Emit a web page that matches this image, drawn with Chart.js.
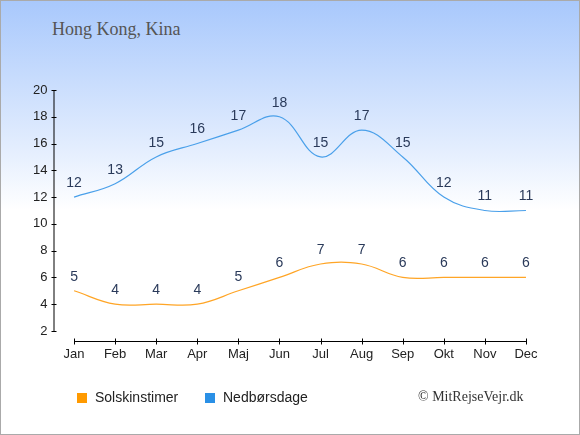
<!DOCTYPE html>
<html>
<head>
<meta charset="utf-8">
<script src="https://cdn.jsdelivr.net/npm/chart.js@4"></script>
<style>
  body { margin: 0; }
  #wrap {
    position: relative; width: 580px; height: 435px;
    background: linear-gradient(to bottom, #a8c8fc 0px, #e4eefe 150px, #ffffff 210px, #ffffff 435px);
  }
  #frame { position: absolute; left: 0; top: 0; width: 578px; height: 433px; border: 1px solid #aaaaaa; pointer-events: none; }
  #title { position: absolute; left: 52px; top: 19px; font: 18px "Liberation Serif", serif; color: #555; }
  .leg { position: absolute; top: 389px; font: 14px "Liberation Sans", Arial, sans-serif; color: #222; }
  .leg span { display: inline-block; width: 10px; height: 10px; margin-right: 8px; vertical-align: -1px; }
  #copy { position: absolute; left: 418px; top: 389px; font: 14px "Liberation Serif", serif; color: #333; }
  canvas { position: absolute; left: 0; top: 0; }
</style>
</head>
<body>
<div id="wrap">
  <div id="title">Hong Kong, Kina</div>
  <canvas id="miGrafico" width="580" height="435"></canvas>
  <div class="leg" style="left:77px"><span style="background:#ff9a00"></span>Solskinstimer</div>
  <div class="leg" style="left:205px"><span style="background:#2a90e6"></span>Nedbørsdage</div>
  <div id="copy">© MitRejseVejr.dk</div>
  <div id="frame"></div>
</div>
<script>
// Datos del gráfico
var meses = ["Jan", "Feb", "Mar", "Apr", "Maj", "Jun", "Jul", "Aug", "Sep", "Okt", "Nov", "Dec"];
var solskinstimer = [5, 4, 4, 4, 5, 6, 7, 7, 6, 6, 6, 6];
var nedborsdage = [12, 13, 15, 16, 17, 18, 15, 17, 15, 12, 11, 11];
var yTicks = [2, 4, 6, 8, 10, 12, 14, 16, 18, 20];

// Ejes y etiquetas dibujados a mano
var ejesPlugin = {
    id: "ejes",
    afterDatasetsDraw: function (chart) {
        var ctx = chart.ctx;
        var x = chart.scales.x, y = chart.scales.y;
        var left = chart.chartArea.left, bottom = chart.chartArea.bottom;
        ctx.save();
        ctx.strokeStyle = "#000";
        ctx.lineWidth = 1;
        // eje y
        var yTop = y.getPixelForValue(yTicks[yTicks.length - 1]);
        var yBot = y.getPixelForValue(yTicks[0]);
        ctx.beginPath();
        ctx.moveTo(left + 0.5, yTop);
        ctx.lineTo(left + 0.5, yBot);
        yTicks.forEach(function (v) {
            var py = Math.round(y.getPixelForValue(v)) + 0.5;
            ctx.moveTo(left - 2, py);
            ctx.lineTo(left + 3, py);
        });
        // eje x
        var x0 = x.getPixelForValue(0), x1 = x.getPixelForValue(meses.length - 1);
        var by = Math.round(bottom) + 0.5;
        ctx.moveTo(x0, by);
        ctx.lineTo(x1, by);
        meses.forEach(function (m, i) {
            var px = Math.round(x.getPixelForValue(i)) + 0.5;
            ctx.moveTo(px, by - 3);
            ctx.lineTo(px, by + 3);
        });
        ctx.stroke();
        // etiquetas de valores
        ctx.fillStyle = "#2a3a5a";
        ctx.font = "14px 'Liberation Sans', Arial, sans-serif";
        ctx.textAlign = "center";
        ctx.textBaseline = "middle";
        chart.data.datasets.forEach(function (ds) {
            ds.data.forEach(function (v, i) {
                ctx.fillText(String(v), x.getPixelForValue(i), y.getPixelForValue(v) - 14);
            });
        });
        ctx.restore();
    }
};

var ctx = document.getElementById("miGrafico").getContext("2d");
var myChart = new Chart(ctx, {
    type: "line",
    data: {
        labels: meses,
        datasets: [
            {
                label: "Solskinstimer",
                data: solskinstimer,
                borderColor: "#ffa526",
                borderWidth: 1.2,
                pointRadius: 0,
                tension: 0.4,
                fill: false,
            },
            {
                label: "Nedbørsdage",
                data: nedborsdage,
                borderColor: "#4aa0ea",
                borderWidth: 1.2,
                pointRadius: 0,
                tension: 0.4,
                fill: false,
            },
        ],
    },
    options: {
        responsive: false,
        animation: false,
        devicePixelRatio: 1,
        layout: { padding: { top: 90, left: 0, right: 33.5, bottom: 0 } },
        plugins: { legend: { display: false }, tooltip: { enabled: false } },
        scales: {
            x: {
                offset: true,
                grid: { display: false, drawTicks: false },
                border: { display: false },
                ticks: { color: "#222", padding: 6, font: { size: 13, family: "'Liberation Sans', Arial, sans-serif" } },
                afterFit: function (s) { s.height = 94; },
            },
            y: {
                min: 1.25,
                max: 20,
                grid: { display: false, drawTicks: false },
                border: { display: false },
                afterBuildTicks: function (s) { s.ticks = yTicks.map(function (v) { return { value: v }; }); },
                ticks: { color: "#222", padding: 6, font: { size: 13, family: "'Liberation Sans', Arial, sans-serif" } },
                afterFit: function (s) { s.width = 53.5; },
            },
        },
    },
    plugins: [ejesPlugin],
});
</script>
</body>
</html>
